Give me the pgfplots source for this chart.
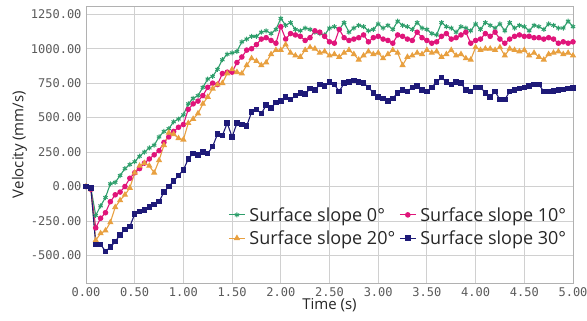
\documentclass[border=0pt]{standalone}
\usepackage{fontspec}
\setmainfont{Open Sans}
\newfontfamily\monofont{DejaVu Sans Mono}
\usepackage{pgfplots}
\usepackage{pgfplotstable}
\pgfplotsset{compat=1.18}
\definecolor{cgreen}{HTML}{2E9E6B}
\definecolor{cmag}{HTML}{E0157A}
\definecolor{corange}{HTML}{E8A040}
\definecolor{cblue}{HTML}{1E1A78}
\definecolor{gridc}{HTML}{D0D0D0}
\definecolor{tickc}{HTML}{5A5A5A}

\pgfplotstableread{
t v
0.00 0
0.05 -10
0.10 -210
0.15 -140
0.20 -80
0.25 20
0.30 30
0.35 80
0.40 130
0.45 160
0.50 180
0.55 220
0.60 250
0.65 280
0.70 300
0.75 360
0.80 400
0.85 420
0.90 470
0.95 490
1.00 520
1.05 600
1.10 640
1.15 660
1.20 720
1.25 780
1.30 800
1.35 850
1.40 920
1.45 960
1.50 970
1.55 980
1.60 1050
1.65 1070
1.70 1090
1.75 1090
1.80 1120
1.85 1130
1.90 1110
1.95 1140
2.00 1220
2.05 1170
2.10 1190
2.15 1140
2.20 1130
2.25 1150
2.30 1140
2.35 1120
2.40 1110
2.45 1100
2.50 1150
2.55 1160
2.60 1140
2.65 1190
2.70 1120
2.75 1150
2.80 1170
2.85 1160
2.90 1130
2.95 1140
3.00 1180
3.05 1150
3.10 1170
3.15 1140
3.20 1200
3.25 1170
3.30 1160
3.35 1140
3.40 1190
3.45 1150
3.50 1140
3.55 1110
3.60 1100
3.65 1190
3.70 1160
3.75 1150
3.80 1120
3.85 1160
3.90 1150
3.95 1130
4.00 1180
4.05 1140
4.10 1190
4.15 1170
4.20 1150
4.25 1180
4.30 1130
4.35 1190
4.40 1150
4.45 1170
4.50 1160
4.55 1130
4.60 1170
4.65 1160
4.70 1140
4.75 1180
4.80 1170
4.85 1150
4.90 1150
4.95 1200
5.00 1160
}\slopeA

\pgfplotstableread{
t v
0.00 0
0.05 -20
0.10 -300
0.15 -230
0.20 -190
0.25 -110
0.30 -60
0.35 -40
0.40 0
0.45 60
0.50 100
0.55 130
0.60 170
0.65 200
0.70 230
0.75 260
0.80 320
0.85 360
0.90 400
0.95 430
1.00 450
1.05 560
1.10 600
1.15 620
1.20 660
1.25 720
1.30 750
1.35 740
1.40 820
1.45 830
1.50 830
1.55 900
1.60 940
1.65 990
1.70 1000
1.75 1030
1.80 1070
1.85 1080
1.90 1060
1.95 1040
2.00 1160
2.05 1070
2.10 1110
2.15 1100
2.20 1090
2.25 1060
2.30 1080
2.35 1130
2.40 1120
2.45 1090
2.50 1050
2.55 1040
2.60 1140
2.65 1080
2.70 1060
2.75 1070
2.80 1080
2.85 1100
2.90 1050
2.95 1080
3.00 1090
3.05 1070
3.10 1060
3.15 1040
3.20 1100
3.25 1090
3.30 1070
3.35 1060
3.40 1120
3.45 1080
3.50 1060
3.55 1040
3.60 1050
3.65 1090
3.70 1110
3.75 1070
3.80 1080
3.85 1100
3.90 1120
3.95 1040
4.00 1060
4.05 1070
4.10 1110
4.15 1090
4.20 1120
4.25 1070
4.30 1040
4.35 1070
4.40 1090
4.45 1100
4.50 1090
4.55 1090
4.60 1080
4.65 1080
4.70 1070
4.75 1080
4.80 1070
4.85 1040
4.90 1050
4.95 1040
5.00 1050
}\slopeB

\pgfplotstableread{
t v
0.00 0
0.05 -20
0.10 -390
0.15 -340
0.20 -320
0.25 -260
0.30 -150
0.35 -100
0.40 -60
0.45 -10
0.50 100
0.55 150
0.60 170
0.65 150
0.70 100
0.75 190
0.80 300
0.85 390
0.90 380
0.95 350
1.00 340
1.05 460
1.10 490
1.15 530
1.20 600
1.25 650
1.30 710
1.35 740
1.40 750
1.45 820
1.50 850
1.55 830
1.60 820
1.65 880
1.70 930
1.75 910
1.80 880
1.85 900
1.90 960
1.95 990
2.00 990
2.05 1030
2.10 970
2.15 950
2.20 940
2.25 990
2.30 1010
2.35 1000
2.40 970
2.45 980
2.50 950
2.55 960
2.60 940
2.65 970
2.70 990
2.75 960
2.80 920
2.85 950
2.90 980
2.95 960
3.00 970
3.05 930
3.10 960
3.15 990
3.20 970
3.25 880
3.30 940
3.35 950
3.40 970
3.45 960
3.50 990
3.55 970
3.60 980
3.65 940
3.70 960
3.75 990
3.80 950
3.85 960
3.90 930
3.95 920
4.00 1010
4.05 990
4.10 1000
4.15 1000
4.20 990
4.25 1010
4.30 950
4.35 1000
4.40 990
4.45 980
4.50 990
4.55 950
4.60 970
4.65 940
4.70 920
4.75 960
4.80 970
4.85 980
4.90 960
4.95 970
5.00 950
}\slopeC

\pgfplotstableread{
t v
0.00 0
0.05 -10
0.10 -420
0.15 -420
0.20 -470
0.25 -440
0.30 -400
0.35 -350
0.40 -310
0.45 -290
0.50 -200
0.55 -180
0.60 -170
0.65 -150
0.70 -130
0.75 -110
0.80 -40
0.85 0
0.90 40
0.95 80
1.00 120
1.05 200
1.10 240
1.15 230
1.20 250
1.25 240
1.30 290
1.35 380
1.40 370
1.45 460
1.50 360
1.55 460
1.60 450
1.65 440
1.70 540
1.75 560
1.80 530
1.85 590
1.90 570
1.95 610
2.00 620
2.05 650
2.10 630
2.15 660
2.20 680
2.25 670
2.30 710
2.35 700
2.40 740
2.45 730
2.50 760
2.55 740
2.60 690
2.65 750
2.70 760
2.75 770
2.80 760
2.85 750
2.90 720
2.95 680
3.00 650
3.05 640
3.10 620
3.15 640
3.20 680
3.25 700
3.30 690
3.35 720
3.40 730
3.45 700
3.50 690
3.55 720
3.60 760
3.65 790
3.70 760
3.75 740
3.80 760
3.85 750
3.90 700
3.95 690
4.00 720
4.05 720
4.10 680
4.15 650
4.20 690
4.25 630
4.30 630
4.35 690
4.40 700
4.45 710
4.50 720
4.55 730
4.60 740
4.65 740
4.70 690
4.75 690
4.80 695
4.85 700
4.90 705
4.95 710
5.00 715
}\slopeD

\begin{document}
\begin{tikzpicture}
\begin{axis}[
  name=ax,
  scale only axis,
  width=487pt, height=277pt,
  xmin=0, xmax=5, ymin=-700, ymax=1310,
  xtick={0,0.5,...,5},
  ytick={-500,-250,0,250,500,750,1000,1250},
  grid=major,
  major grid style={gridc, line width=0.9pt},
  axis line style={gridc!85!black, line width=0.7pt},
  tick style={draw=none},
  xticklabel style={font=\monofont\fontsize{12}{14}\selectfont, text=tickc, yshift=-1pt},
  yticklabel style={font=\monofont\fontsize{12}{14}\selectfont, text=tickc, xshift=-1pt},
  /pgf/number format/assume math mode=true,
  /pgf/number format/.cd, fixed, fixed zerofill, precision=2, 1000 sep={},
  /pgfplots/.cd,
  xlabel={Time (s)},
  ylabel={Velocity (mm/s)},
  xlabel style={font=\fontsize{15}{17}\selectfont, text=black!85, yshift=5pt},
  ylabel style={font=\fontsize{15}{17}\selectfont, text=black!85, yshift=-3pt},
  legend columns=2,
  legend style={at={(0.29,0.285)}, anchor=north west, draw=none, fill=none,
    font=\fontsize{18}{20}\selectfont, text=black!85, inner sep=1pt,
    /tikz/every even column/.append style={column sep=2pt},
    /tikz/every odd column/.append style={column sep=2pt},
    row sep=4pt},
  legend image code/.code={\draw[mark repeat=2,mark phase=2] plot coordinates {(0cm,0cm) (0.28cm,0cm) (0.56cm,0cm)};},
  legend cell align=left,
  every axis plot/.append style={line width=1.1pt},
]
\addplot[color=cgreen, mark=asterisk, mark size=2.5pt, mark options={line width=1pt}] table[x=t,y=v] {\slopeA};
\addlegendentry{Surface slope 0°}
\addplot[color=cmag, mark=*, mark size=2.2pt] table[x=t,y=v] {\slopeB};
\addlegendentry{Surface slope 10°}
\addplot[color=corange, mark=triangle*, mark size=2.6pt] table[x=t,y=v] {\slopeC};
\addlegendentry{Surface slope 20°}
\addplot[color=cblue, mark=square*, mark size=2.2pt] table[x=t,y=v] {\slopeD};
\addlegendentry{Surface slope 30°}
\end{axis}
\pgfresetboundingbox
\path ([xshift=-86pt,yshift=-37pt]ax.south west) rectangle ([xshift=14pt,yshift=6pt]ax.north east);
\end{tikzpicture}
\end{document}
